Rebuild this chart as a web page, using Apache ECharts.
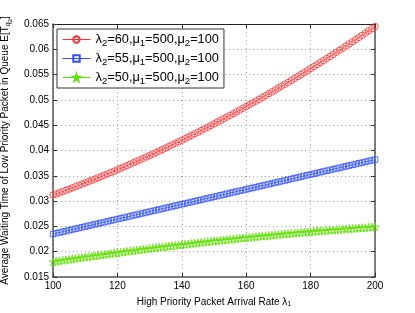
<!DOCTYPE html>
<html>
<head>
<meta charset="utf-8">
<script src="https://cdn.jsdelivr.net/npm/echarts@6/dist/echarts.min.js"></script>
<style>html,body{margin:0;padding:0;background:#fff}#c{width:415px;height:313px}</style>
</head>
<body>
<div id="c"></div>
<script>
const lambda1 = [100,101,102,103,104,105,106,107,108,109,110,111,112,113,114,115,116,117,118,119,120,121,122,123,124,125,126,127,128,129,130,131,132,133,134,135,136,137,138,139,140,141,142,143,144,145,146,147,148,149,150,151,152,153,154,155,156,157,158,159,160,161,162,163,164,165,166,167,168,169,170,171,172,173,174,175,176,177,178,179,180,181,182,183,184,185,186,187,188,189,190,191,192,193,194,195,196,197,198,199,200];
const seriesNames = ['l60', 'l55', 'l50'];
const lambda2Values = ['60', '55', '50'];
const redValues = [0.03120,0.03143,0.03166,0.03190,0.03213,0.03237,0.03261,0.03286,0.03310,0.03335,0.03360,0.03385,0.03410,0.03436,0.03461,0.03487,0.03513,0.03540,0.03566,0.03593,0.03620,0.03647,0.03675,0.03702,0.03730,0.03758,0.03786,0.03815,0.03843,0.03872,0.03901,0.03930,0.03960,0.03990,0.04019,0.04050,0.04080,0.04110,0.04141,0.04172,0.04203,0.04234,0.04266,0.04298,0.04330,0.04362,0.04394,0.04427,0.04459,0.04492,0.04526,0.04559,0.04593,0.04627,0.04661,0.04695,0.04729,0.04764,0.04799,0.04834,0.04869,0.04905,0.04940,0.04976,0.05012,0.05049,0.05085,0.05122,0.05159,0.05196,0.05233,0.05271,0.05308,0.05346,0.05385,0.05423,0.05462,0.05500,0.05539,0.05579,0.05618,0.05658,0.05698,0.05738,0.05778,0.05818,0.05859,0.05900,0.05941,0.05982,0.06024,0.06065,0.06107,0.06149,0.06192,0.06234,0.06277,0.06320,0.06363,0.06406,0.06450];
const blueValues = [0.02350,0.02365,0.02379,0.02394,0.02409,0.02424,0.02438,0.02453,0.02468,0.02482,0.02497,0.02512,0.02526,0.02541,0.02556,0.02571,0.02585,0.02600,0.02615,0.02629,0.02644,0.02659,0.02673,0.02688,0.02703,0.02718,0.02732,0.02747,0.02762,0.02776,0.02791,0.02806,0.02820,0.02835,0.02850,0.02865,0.02879,0.02894,0.02909,0.02923,0.02938,0.02953,0.02967,0.02982,0.02997,0.03012,0.03026,0.03041,0.03056,0.03070,0.03085,0.03100,0.03114,0.03129,0.03144,0.03159,0.03173,0.03188,0.03203,0.03217,0.03232,0.03247,0.03261,0.03276,0.03291,0.03306,0.03320,0.03335,0.03350,0.03364,0.03379,0.03394,0.03408,0.03423,0.03438,0.03453,0.03467,0.03482,0.03497,0.03511,0.03526,0.03541,0.03555,0.03570,0.03585,0.03600,0.03614,0.03629,0.03644,0.03658,0.03673,0.03688,0.03702,0.03717,0.03732,0.03747,0.03761,0.03776,0.03791,0.03805,0.03820];
const greenValues = [0.01800,0.01810,0.01819,0.01828,0.01838,0.01847,0.01856,0.01865,0.01875,0.01884,0.01893,0.01902,0.01911,0.01919,0.01928,0.01937,0.01946,0.01954,0.01963,0.01972,0.01980,0.01988,0.01997,0.02005,0.02013,0.02022,0.02030,0.02038,0.02046,0.02054,0.02062,0.02070,0.02078,0.02086,0.02094,0.02101,0.02109,0.02116,0.02124,0.02132,0.02139,0.02146,0.02154,0.02161,0.02168,0.02175,0.02183,0.02190,0.02197,0.02204,0.02211,0.02217,0.02224,0.02231,0.02238,0.02244,0.02251,0.02258,0.02264,0.02271,0.02277,0.02283,0.02290,0.02296,0.02302,0.02308,0.02314,0.02320,0.02326,0.02332,0.02338,0.02344,0.02350,0.02355,0.02361,0.02367,0.02372,0.02378,0.02383,0.02389,0.02394,0.02399,0.02405,0.02410,0.02415,0.02420,0.02425,0.02430,0.02435,0.02440,0.02445,0.02449,0.02454,0.02459,0.02463,0.02468,0.02472,0.02477,0.02481,0.02486,0.02490];
const xTicks = [100, 120, 140, 160, 180, 200];
const yTicks = [0.015, 0.02, 0.025, 0.03, 0.035, 0.04, 0.045, 0.05, 0.055, 0.06, 0.065];

const FONT = 'Liberation Sans';
const colors = ['#ff3030', '#3050ff', '#5ee000'];
const starPath = 'path://M50,0 L61,35 L98,35 L68,57 L79,91 L50,70 L21,91 L32,57 L2,35 L39,35 Z';
const symbols = ['circle', 'rect', starPath];
const symbolSizes = [6.5, 5.5, 8];
const valueSets = [redValues, blueValues, greenValues];

const chart = echarts.init(document.getElementById('c'), null, {renderer: 'canvas'});
const axisRich = {
  n: {fontFamily: FONT, fontSize: 10, color: '#000', lineHeight: 13},
  s: {fontFamily: FONT, fontSize: 7, color: '#000', lineHeight: 13, padding: [5, 0, 0, 0]}
};
const legendRich = {
  n: {fontFamily: FONT, fontSize: 12.8, color: '#000', lineHeight: 15},
  s: {fontFamily: FONT, fontSize: 9.5, color: '#000', lineHeight: 15, padding: [7, 0, 0, 0]}
};
const gridStyle = {show: true, lineStyle: {type: [1, 3], color: '#a0a0a0', width: 1}};
const fmtY = v => String(parseFloat(v.toFixed(4)));

const series = valueSets.map((vals, i) => ({
  name: seriesNames[i],
  type: 'line',
  xAxisIndex: 0, yAxisIndex: 0,
  data: lambda1.map((x, k) => [x, vals[k]]),
  symbol: symbols[i],
  symbolSize: symbolSizes[i],
  showAllSymbol: true,
  lineStyle: {color: colors[i], width: 0.8},
  itemStyle: {color: 'rgba(255,255,255,0)', borderColor: colors[i], borderWidth: 0.8},
  emphasis: {disabled: true},
  z: 3
}));

chart.setOption({
  animation: false,
  backgroundColor: '#fff',
  grid: {left: 53, right: 40, top: 24, bottom: 36, containLabel: false, outerBoundsMode: 'none'},
  legend: {
    orient: 'vertical', left: 57, top: 29,
    padding: [2, 5, 2, 5], itemGap: 2, itemWidth: 28, itemHeight: 8,
    backgroundColor: '#fff', borderColor: '#333', borderWidth: 1, borderRadius: 0,
    data: seriesNames,
    lineStyle: {width: 1},
    textStyle: {fontFamily: FONT, fontSize: 12.8, color: '#000', rich: legendRich},
    formatter: name => {
      const i = seriesNames.indexOf(name);
      return '{n|λ}{s|2}{n|=' + lambda2Values[i] + ',μ}{s|1}{n|=500,μ}{s|2}{n|=100}';
    }
  },
  xAxis: [{
    type: 'value', min: xTicks[0], max: xTicks[xTicks.length - 1], interval: 20, position: 'bottom',
    axisLine: {show: true, lineStyle: {color: '#555', width: 1.5}},
    axisTick: {show: true, inside: true, length: 4, lineStyle: {color: '#333'}},
    axisLabel: {fontFamily: FONT, fontSize: 10, color: '#000', margin: 4},
    splitLine: gridStyle,
    name: '{n|High Priority Packet Arrival Rate λ}{s|1}',
    nameLocation: 'middle', nameGap: 18,
    nameTextStyle: {fontFamily: FONT, fontSize: 10, color: '#000', rich: axisRich}
  }, {
    type: 'value', min: 100, max: 200, interval: 20, position: 'top',
    axisLine: {show: true, lineStyle: {color: '#222', width: 1}},
    axisTick: {show: true, inside: true, length: 4, lineStyle: {color: '#333'}},
    axisLabel: {show: false}, splitLine: {show: false}
  }],
  yAxis: [{
    type: 'value', min: yTicks[0], max: yTicks[yTicks.length - 1], interval: 0.005, position: 'left',
    axisLine: {show: true, lineStyle: {color: '#555', width: 1.5}},
    axisTick: {show: true, inside: true, length: 4, lineStyle: {color: '#333'}},
    axisLabel: {fontFamily: FONT, fontSize: 10, color: '#000', margin: 4, formatter: fmtY},
    splitLine: gridStyle,
    name: '{n|Average Waiting Time of Low Priority Packet in Queue E[T}{s|q}{t|2}{n|]}',
    nameLocation: 'middle', nameGap: 39,
    nameTextStyle: {fontFamily: FONT, fontSize: 10, color: '#000', rich: Object.assign({}, axisRich, {
      t: {fontFamily: FONT, fontSize: 6, color: '#000', lineHeight: 13, padding: [9, 0, 0, 0]}
    })}
  }, {
    type: 'value', min: 0.015, max: 0.065, interval: 0.005, position: 'right',
    axisLine: {show: true, lineStyle: {color: '#555', width: 1.5}},
    axisTick: {show: true, inside: true, length: 4, lineStyle: {color: '#333'}},
    axisLabel: {show: false}, splitLine: {show: false}
  }],
  series: series
});
</script>
</body>
</html>
